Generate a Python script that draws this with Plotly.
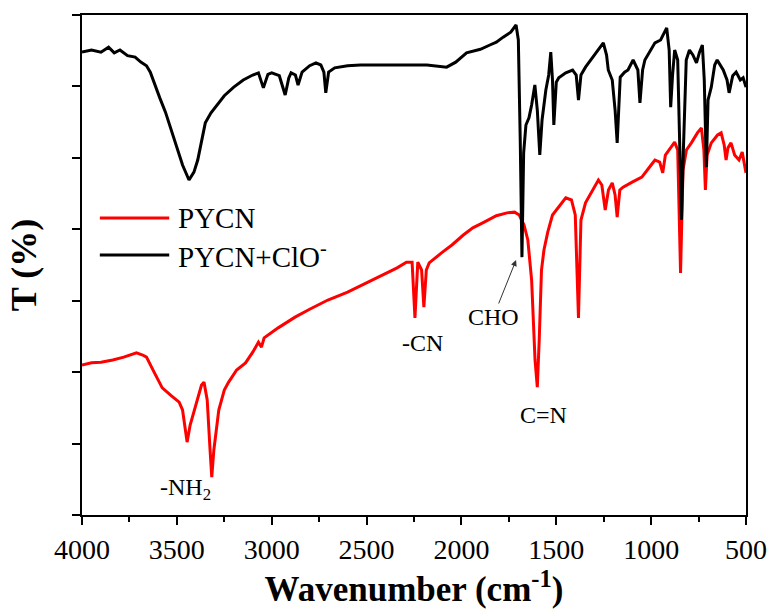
import plotly.graph_objects as go

# FT-IR spectra: wavenumber (cm^-1) and transmittance (arbitrary offset units)
pycn_wn = [4000, 3950, 3900, 3838, 3780, 3740, 3713, 3680, 3660, 3620, 3577, 3530,
           3488, 3470, 3446, 3430, 3399, 3370, 3357, 3340, 3325, 3316, 3305, 3279,
           3250, 3227, 3185, 3138, 3100, 3070, 3054, 3040, 2966, 2920, 2877, 2800,
           2704, 2600, 2500, 2400, 2339, 2290, 2260, 2245, 2230, 2210, 2198, 2185,
           2170, 2100, 2050, 1990, 1940, 1880, 1816, 1760, 1720, 1695, 1670, 1650,
           1630, 1612, 1600, 1590, 1578, 1565, 1545, 1520, 1487, 1450, 1420, 1400,
           1383, 1370, 1346, 1310, 1278, 1260, 1242, 1225, 1205, 1190, 1179, 1165,
           1148, 1100, 1049, 1000, 980, 955, 939, 925, 900, 876, 860, 845, 832, 814,
           788, 756, 735, 722, 714, 705, 683, 650, 631, 615, 605, 595, 579, 560,
           537, 520, 500]
pycn_t = [21.0, 21.3, 21.4, 21.7, 22.1, 22.4, 22.7, 22.4, 22.1, 20.0, 17.8, 16.7,
          15.8, 14.7, 10.2, 12.6, 15.4, 18.2, 18.6, 16.1, 9.1, 5.3, 9.1, 14.7,
          17.5, 18.6, 20.3, 21.3, 22.8, 24.2, 23.5, 24.8, 26.2, 27.0, 27.7, 28.8,
          30.1, 31.2, 32.5, 33.9, 34.6, 35.4, 35.4, 27.6, 35.4, 34.3, 29.1, 34.3,
          35.3, 36.8, 37.8, 39.2, 40.2, 41.0, 41.9, 42.3, 42.4, 42.0, 40.6, 38.5,
          32.9, 21.7, 17.9, 24.5, 34.3, 37.1, 39.6, 42.0, 43.1, 44.4, 44.1, 42.0,
          27.6, 41.3, 43.7, 45.5, 46.9, 46.2, 42.7, 45.5, 46.5, 44.8, 41.7, 45.5,
          45.9, 46.6, 47.3, 49.0, 49.7, 49.4, 47.9, 50.4, 51.4, 52.2, 51.1, 33.9, 48.3, 51.1,
          52.1, 53.5, 54.2, 51.1, 45.5, 50.4, 52.1, 53.2, 53.5, 51.8, 49.7, 51.4, 52.1, 50.4,
          49.7, 50.8, 47.9]

clo_wn = [4000, 3950, 3900, 3860, 3830, 3800, 3760, 3720, 3690, 3660, 3640, 3620,
          3590, 3560, 3530, 3500, 3470, 3436, 3410, 3390, 3370, 3350, 3320, 3290,
          3250, 3200, 3150, 3100, 3070, 3044, 3020, 3000, 2960, 2929, 2910, 2898,
          2875, 2861, 2840, 2800, 2767, 2741, 2725, 2715, 2700, 2668, 2600, 2532,
          2400, 2300, 2182, 2078, 2030, 1973, 1900, 1850, 1816, 1780, 1740, 1712,
          1700, 1690, 1681, 1672, 1660, 1644, 1630, 1613, 1600, 1587, 1575, 1555,
          1540, 1529, 1520, 1513, 1500, 1487, 1450, 1414, 1395, 1383, 1370, 1346,
          1300, 1252, 1235, 1226, 1205, 1190, 1179, 1170, 1163, 1140, 1122, 1095,
          1070, 1059, 1045, 1033, 1000, 980, 950, 918, 905, 897, 887, 876, 860, 850,
          840, 830, 815, 798, 780, 761, 745, 730, 720, 709, 700, 683, 665, 652, 620,
          600, 589, 570, 552, 530, 515, 500]
clo_t = [64.8, 65.1, 64.8, 65.5, 64.7, 65.1, 64.3, 64.1, 63.4, 62.9, 62.0, 60.5,
         58.4, 56.4, 53.9, 51.5, 49.0, 46.9, 48.0, 49.7, 52.5, 54.9, 56.3, 57.4,
         58.7, 59.9, 60.9, 61.6, 61.9, 59.8, 61.7, 61.9, 61.5, 58.8, 61.2, 61.9,
         61.6, 60.2, 62.0, 62.9, 63.3, 63.0, 62.0, 59.1, 62.0, 62.6, 62.9, 63.0,
         63.0, 62.9, 63.0, 62.7, 63.4, 64.7, 65.2, 65.8, 66.2, 66.9, 67.6, 68.6,
         66.5, 52.5, 36.1, 50.7, 54.6, 55.6, 57.4, 60.2, 56.7, 50.4, 55.3, 59.5,
         61.6, 64.8, 60.9, 54.6, 60.6, 61.2, 61.9, 62.3, 61.6, 58.1, 61.6, 62.7,
         64.4, 66.1, 64.4, 62.3, 60.9, 56.7, 52.1, 58.1, 61.3, 62.0, 62.3, 63.7,
         62.3, 57.7, 62.3, 63.7, 65.1, 66.1, 66.5, 68.2, 65.1, 57.1, 61.6, 65.1, 63.7, 51.1,
         41.3, 51.1, 63.7, 65.1, 64.4, 63.3, 64.8, 65.8, 60.9, 48.7, 58.1, 59.9, 63.0, 63.7, 62.3,
         60.9, 59.1, 61.5, 62.0, 60.9, 61.2, 59.9]

x_ticks = [4000, 3500, 3000, 2500, 2000, 1500, 1000, 500]
y_ticks = [0, 10, 20, 30, 40, 50, 60, 70]

SERIF = "Liberation Serif"

fig = go.Figure()
fig.add_trace(go.Scatter(x=pycn_wn, y=pycn_t, mode="lines", name="PYCN",
                         line=dict(color="#ff0000", width=3), showlegend=False))
fig.add_trace(go.Scatter(x=clo_wn, y=clo_t, mode="lines", name="PYCN+ClO<sup>-</sup>",
                         line=dict(color="#000000", width=3), showlegend=False))

# legend drawn as line samples + labels
legend_rows = [("PYCN", "#ff0000", 218), ("PYCN+ClO<sup>-</sup>", "#000000", 255)]
PL, PT, PW, PH = 82, 15, 670, 500
for label, color, py in legend_rows:
    yy = (PT + PH - py) / PH
    fig.add_shape(type="line", xref="paper", yref="paper",
                  x0=(100 - PL) / PW, x1=(170 - PL) / PW, y0=yy, y1=yy,
                  line=dict(color=color, width=3))
    fig.add_annotation(xref="paper", yref="paper", x=(177 - PL) / PW, y=yy,
                       text=label, showarrow=False, xanchor="left", yanchor="middle",
                       font=dict(family=SERIF, size=29, color="black"))

# band labels
band_font = dict(family=SERIF, size=24, color="black")
fig.add_annotation(x=3457, y=3.6, text="-NH<sub>2</sub>", showarrow=False, font=band_font)
fig.add_annotation(x=2203, y=24.1, text="-CN", showarrow=False, font=band_font)
fig.add_annotation(x=1832, y=27.7, text="CHO", showarrow=False, font=band_font)
fig.add_annotation(x=1566, y=14.0, text="C=N", showarrow=False, font=band_font)
fig.add_annotation(x=1712, y=35.7, ax=-18, ay=45, text="", showarrow=True,
                   arrowhead=2, arrowsize=1.2, arrowwidth=1, arrowcolor="#333333")

axis_common = dict(showline=True, linecolor="black", linewidth=2, mirror=True,
                   ticks="outside", ticklen=8, tickwidth=2, tickcolor="black",
                   showgrid=False, zeroline=False)

fig.update_layout(
    width=779, height=614,
    margin=dict(l=82, r=27, t=15, b=99),
    paper_bgcolor="white", plot_bgcolor="white",
    xaxis=dict(range=[4000, 500], tickvals=x_ticks,
               tickfont=dict(family=SERIF, size=28, color="black"),
               minor=dict(ticks="outside", ticklen=5, tickwidth=2, dtick=250,
                          tickcolor="black", showgrid=False),
               title=dict(text="Wavenumber (cm<sup>-1</sup>)", standoff=8,
                          font=dict(family=SERIF, size=35, color="black", weight="bold")),
               **axis_common),
    yaxis=dict(range=[0, 70], tickvals=y_ticks, showticklabels=False,
               title=dict(text="T (%)", standoff=24,
                          font=dict(family=SERIF, size=36, color="black", weight="bold")),
               **axis_common),
)

fig.write_html("out.html")
